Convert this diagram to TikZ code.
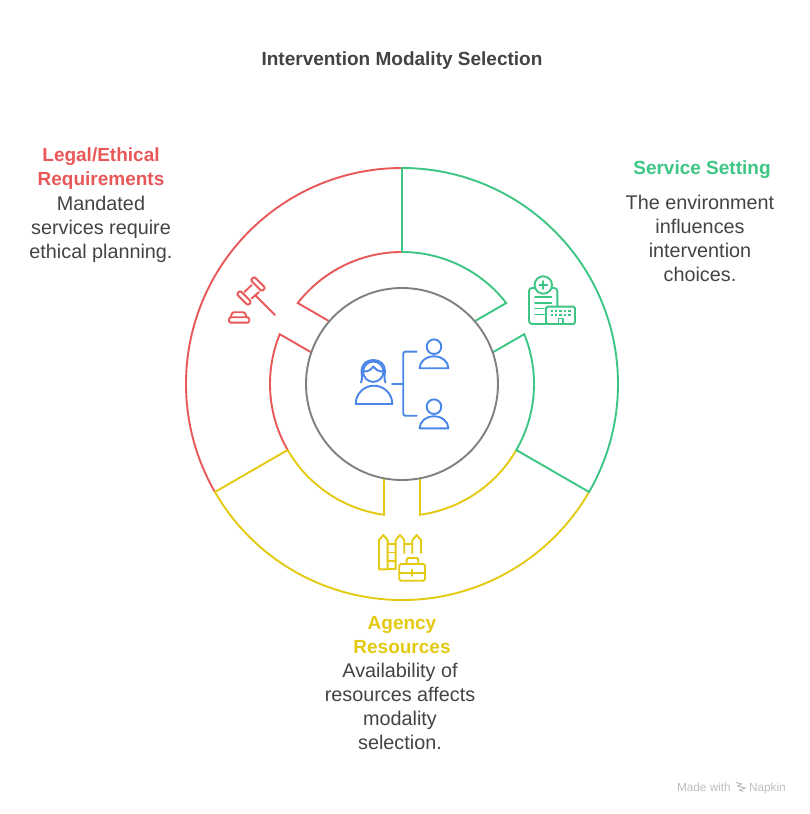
\documentclass[tikz,border=0pt]{standalone}
\usepackage{fontspec}
\setmainfont{Liberation Sans}
\usetikzlibrary{positioning}
\definecolor{redring}{HTML}{E85858}
\definecolor{greenring}{HTML}{3CC583}
\definecolor{yellowring}{HTML}{E3C90F}
\definecolor{bluering}{HTML}{4A86E8}
\definecolor{grayring}{HTML}{808080}
\definecolor{inktext}{HTML}{434343}
\definecolor{marktext}{HTML}{BDBDBD}
\begin{document}
\begin{tikzpicture} [
  x = 1pt, y = 1pt,
  inner sep = 0,
  ring/.style = { line width = 1.9pt, line join = miter },
  icon/.style = { line width = 1.9pt, line cap = round, line join = round },
  every node/.style = { align = center, text = inktext },
  head/.style = { font = \fontsize{19}{24}\selectfont\bfseries },
  body/.style = { font = \fontsize{19.8}{24}\selectfont },
  stamp/.style = { text = marktext, font = \fontsize{11.8}{13}\selectfont, anchor = base east }
  ]

  \useasboundingbox (-402,-430) rectangle (408,384);

  % rings
  \draw[ring, redring] (90:216) arc [start angle=90, end angle=210, radius=216pt];
  \draw[ring, redring] (210:132) arc [start angle=210, end angle=157.84, radius=132pt] -- (160.8:96);
  \draw[ring, redring] (90:132) arc [start angle=90, end angle=142.16, radius=132pt] -- (139.2:96);
  \draw[ring, yellowring] (210:132) -- (210:216) arc [start angle=210, end angle=330, radius=216pt];
  \draw[ring, yellowring] (330:132) arc [start angle=330, end angle=277.84, radius=132pt] -- (280.8:96);
  \draw[ring, yellowring] (210:132) arc [start angle=210, end angle=262.16, radius=132pt] -- (259.2:96);
  \draw[ring, greenring] (90:132) -- (90:216) arc [start angle=90, end angle=-30, radius=216pt] -- (-30:132)
    arc [start angle=-30, end angle=22.16, radius=132pt] -- (19.2:96);
  \draw[ring, greenring] (90:132) arc [start angle=90, end angle=37.84, radius=132pt] -- (40.8:96);
  \draw[ring, grayring] (0,0) circle [radius=96pt];

  % icons are in picture pixels
  \begin{scope}[shift={(-402,384)}, yscale=-1, icon]
    % gavel
    \begin{scope}[redring]
      \draw[rotate around={45:(258,284)}, rounded corners=1.5pt] (250,281.5) rectangle (266,286.5);
      \draw[rotate around={45:(244,298)}, rounded corners=1.5pt] (236,295.5) rectangle (252,300.5);
      \draw (251.7,285) -- (244.5,292) (259,292) -- (251.7,298.5);
      \draw (255,295) -- (275,315);
      \draw[rounded corners=1.5pt] (231,317.3) -- (232,312.3) -- (245,312.3) -- (246.5,317.3);
      \draw[rounded corners=1.5pt] (229,317.3) rectangle (249.3,322.7);
    \end{scope}
    % people
    \begin{scope}[bluering]
      \draw (373.3,371.7) circle [radius=10.2pt];
      \draw (361,382.5) .. controls (363,378) and (361.5,375) .. (361.5,371)
        .. controls (361.5,364) and (367,360) .. (373.3,360)
        .. controls (380,360) and (385,364) .. (385,371)
        .. controls (385,375) and (383.5,378) .. (385.5,382.5);
      \draw (364,371.5) .. controls (369,371.5) and (371,369.5) .. (373.3,366.5)
        .. controls (376,369.5) and (378,371.5) .. (382.5,371.5);
      \draw (355.7,404) -- (392.3,404) arc [start angle=0, end angle=-180, x radius=18.3pt, y radius=18.3pt] -- cycle;
      \draw (392,383.7) -- (403.3,383.7);
      \draw[rounded corners=2pt] (416.7,351.7) -- (403.3,351.7) -- (403.3,415.7) -- (416.7,415.7);
      \foreach \py in {0,60} {
        \draw (434,346.7+\py) circle [radius=7.3pt];
        \draw (419.6,368.3+\py) -- (448.4,368.3+\py)
          arc [start angle=0, end angle=-180, x radius=14.4pt, y radius=12pt] -- cycle;
      }
    \end{scope}
    % clipboard and building
    \begin{scope}[greenring]
      \draw (543.3,285) circle [radius=8.7pt];
      \draw (543.3,281) -- (543.3,289) (539.3,285) -- (547.3,285);
      \draw[rounded corners=3pt] (534.5,288) -- (529,288) -- (529,324) -- (546,324);
      \draw[rounded corners=3pt] (552,288) -- (557.3,288) -- (557.3,306);
      \draw (535,297) -- (551.5,297) (535,303) -- (551.5,303) (535,308.5) -- (544,308.5) (535,314.5) -- (544,314.5);
      \draw[rounded corners=1.5pt] (546,306.7) rectangle (575,324);
      \draw[line cap=butt, dash pattern=on 2.4pt off 2pt] (550.5,311) -- (572,311);
      \draw[line cap=butt, dash pattern=on 2.4pt off 2pt] (550.5,315) -- (572,315);
      \draw (558.5,324) -- (558.5,318.5) -- (562.7,318.5) -- (562.7,324);
    \end{scope}
    % fence and briefcase
    \begin{scope}[yellowring]
      \draw (379,569.3) -- (379,540) -- (383.3,535) -- (387.7,540) -- (387.7,569.3) -- cycle;
      \draw (395.7,569.3) -- (395.7,540) -- (400,535) -- (404.3,540) -- (404.3,553);
      \draw (412.3,553) -- (412.3,540) -- (416.7,535) -- (421,540) -- (421,553);
      \foreach \ry in {544,552.5,560.7,569.3} {
        \draw (387.7,\ry) -- (395.7,\ry);
      }
      \draw (404.3,544) -- (412.3,544);
      \draw[rounded corners=1.5pt] (399.3,564) rectangle (425,580.7);
      \draw[rounded corners=1.5pt] (406.7,564) -- (406.7,558) -- (418.3,558) -- (418.3,564);
      \draw (399.3,572.7) -- (425,572.7) (412.2,569.5) -- (412.2,576);
    \end{scope}
    % napkin mark
    \begin{scope}[marktext, line width=1pt]
      \draw (736,782.5) -- (742,784) -- (737.5,786) -- (745.5,788) -- (739,790) -- (743,791.5);
    \end{scope}
  \end{scope}

  % texts
  \node[head] (title) at (0,323) {Intervention Modality Selection};
  \node[head, text=redring] (legalhead) at (-301,215) {Legal/Ethical\\Requirements};
  \node[body, below = 6pt of legalhead] (legalbody) {Mandated\\services require\\ethical planning.};
  \node[head, text=greenring] (servicehead) at (300,214) {Service Setting};
  \node[body] (servicebody) at (298,145.3) {The environment\\influences\\intervention\\choices.};
  \node[head, text=yellowring] (agencyhead) at (0,-251) {Agency\\Resources};
  \node[body, below = 9pt of agencyhead, xshift=-2pt] (agencybody) {Availability of\\resources affects\\modality\\selection.};
  \node[stamp] (madewith) at (329,-407) {Made with};
  \node[stamp] (napkin) at (384,-407) {Napkin};
\end{tikzpicture}
\end{document}
